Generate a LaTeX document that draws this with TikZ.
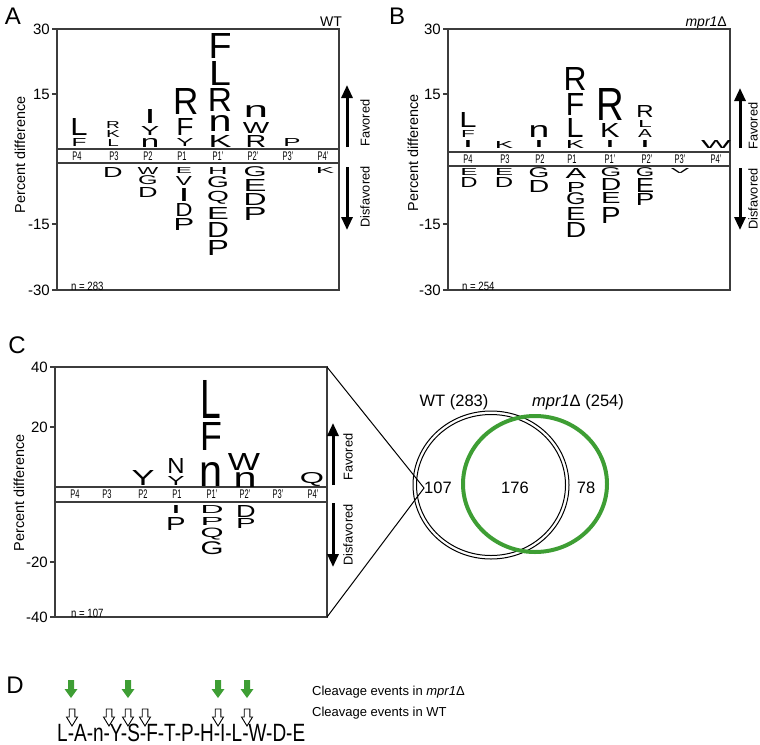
\documentclass[tikz,border=0pt]{standalone}
\usepackage{fontspec}
\setmainfont{Liberation Sans}
\usepackage{graphicx}
\usetikzlibrary{arrows.meta}
\definecolor{vgreen}{RGB}{62,158,52}
\definecolor{framecol}{RGB}{60,60,60}
\newcounter{gl}
\newcommand{\glyph}[5]{%
  \stepcounter{gl}%
  \pgfmathsetmacro{\glh}{#3-#2}%
  \pgfmathsetmacro{\glw}{#4*1.15}%
  \node[glyphnode] (gl\arabic{gl}) at (#1,#2) {\resizebox*{\glw pt}{\glh pt}{#5}};}
\newcommand{\narrowtxt}[1]{\scalebox{0.6}[1]{#1}}
\newcommand{\ntxt}[1]{\scalebox{0.8}[1]{#1}}
\newcommand{\garrow}[1]{\fill[vgreen] (#1-3,680) -- (#1+3,680) -- (#1+3,689) -- (#1+6.5,689) -- (#1,698) -- (#1-6.5,689) -- (#1-3,689) -- cycle;}
\newcommand{\oarrow}[1]{\draw[line width=0.9pt,line join=miter] (#1-2.8,709) -- (#1+2.8,709) -- (#1+2.8,717) -- (#1+5.5,717) -- (#1,726) -- (#1-5.5,717) -- (#1-2.8,717) -- cycle;}
\tikzset{
  glyphnode/.style={inner sep=0pt, outer sep=0pt, anchor=north},
  frame/.style={draw=framecol, line width=1.2pt},
  ticklab/.style={anchor=east, inner sep=0pt, font=\fontsize{15}{15}\selectfont},
  plabel/.style={inner sep=0pt, font=\fontsize{12.5}{12.5}\selectfont},
  ylab/.style={rotate=90, inner sep=0pt, font=\fontsize{14.4}{14.4}\selectfont},
  favlab/.style={rotate=90, inner sep=0pt, font=\fontsize{12.8}{12.8}\selectfont},
  bigarrow/.style={line width=3pt, -{Triangle[length=13pt,width=11pt]}},
  panellab/.style={inner sep=0pt, font=\fontsize{24}{24}\selectfont},
  ncount/.style={anchor=west, inner sep=0pt, font=\fontsize{12}{12}\selectfont},
  vennlab/.style={inner sep=0pt, font=\fontsize{16.5}{16.5}\selectfont},
}
\begin{document}
\begin{tikzpicture}[x=1pt,y=-1pt]
\path[use as bounding box] (0,0) rectangle (760,744);

% ================= Panel A =================
\node[panellab] (labA) at (13,16) {A};
\node[anchor=base east, inner sep=0pt, font=\fontsize{14}{14}\selectfont] (wtA) at (342,27) {WT};
\draw[frame] (57,29) rectangle (339,290);
\draw[frame] (57,149) rectangle (339,163);
\foreach \yy in {29,94,224,290} \draw[frame] (52,\yy) -- (57,\yy);
\node[ticklab] (ta1) at (50,29) {30};
\node[ticklab] (ta2) at (50,94) {15};
\node[ticklab] (ta3) at (50,224) {-15};
\node[ticklab] (ta4) at (50,290) {-30};
\node[ylab] (ya) at (20,155) {Percent difference};
\foreach \lab/\xx [count=\i] in {P4/77,P3/114,P2/148,P1/182,P1’/218,P2’/253,P3’/288,P4’/323}
  \node[plabel] (pa\i) at (\xx,156) {\narrowtxt{\lab}};
\node[ncount] (na) at (71,286) {\ntxt{n = 283}};
\draw[bigarrow] (347,147) -- (347,85);
\draw[bigarrow] (347,167) -- (347,230);
\node[favlab] (fa) at (365,123) {Favored};
\node[favlab] (da) at (365,197) {Disfavored};
% favored A
\glyph{79}{118}{135}{15}{L}
\glyph{79}{138}{146}{13}{F}
\glyph{113}{121}{128}{12}{R}
\glyph{113}{130}{137}{12}{K}
\glyph{113}{139}{146}{10}{L}
\glyph{150}{109}{123}{9.5}{I}
\glyph{150}{126}{135}{16}{Y}
\glyph{150}{138}{147}{16}{n}
\glyph{186}{88}{114}{22}{R}
\glyph{185}{118}{135}{15}{F}
\glyph{185}{138}{146}{15}{Y}
\glyph{220}{33}{58}{20}{F}
\glyph{220}{61}{85}{19}{L}
\glyph{220}{88}{111}{21}{R}
\glyph{220}{115}{131}{20}{n}
\glyph{220}{135}{147}{20}{K}
\glyph{256}{105}{117}{21}{n}
\glyph{256}{122}{133}{23}{W}
\glyph{256}{135}{147}{18}{R}
\glyph{292}{138}{146}{15}{P}
% disfavored A
\glyph{113}{167}{177}{17}{D}
\glyph{148}{167}{174}{18}{W}
\glyph{148}{176}{185}{17}{G}
\glyph{148}{187}{197}{17}{D}
\glyph{184}{167}{173}{14}{E}
\glyph{184}{176}{185}{14}{V}
\glyph{184}{188}{201}{9.5}{I}
\glyph{184}{203}{216}{15}{D}
\glyph{184}{218}{230}{18}{P}
\glyph{218}{167}{174}{17}{H}
\glyph{218}{177}{188}{19}{G}
\glyph{218}{191}{204}{19}{Q}
\glyph{218}{207}{219}{19}{E}
\glyph{218}{222}{237}{19}{D}
\glyph{218}{240}{255}{19}{P}
\glyph{255}{167}{177}{20}{G}
\glyph{255}{179}{191}{20}{E}
\glyph{255}{193}{205}{20}{D}
\glyph{255}{207}{220}{20}{P}
\glyph{325}{167}{173}{16}{K}

% ================= Panel B =================
\node[panellab] (labB) at (397,16) {B};
\node[anchor=base east, inner sep=0pt, font=\fontsize{14}{14}\selectfont] (wtB) at (727,27) {\textit{mpr1}Δ};
\draw[frame] (448,29) rectangle (730,290);
\draw[frame] (448,152) rectangle (730,166);
\foreach \yy in {29,94,224,290} \draw[frame] (443,\yy) -- (448,\yy);
\node[ticklab] (tb1) at (441,29) {30};
\node[ticklab] (tb2) at (441,94) {15};
\node[ticklab] (tb3) at (441,224) {-15};
\node[ticklab] (tb4) at (441,290) {-30};
\node[ylab] (yb) at (413,153) {Percent difference};
\foreach \lab/\xx [count=\i] in {P4/468,P3/505,P2/540,P1/572,P1’/610,P2’/647,P3’/680,P4’/716}
  \node[plabel] (pb\i) at (\xx,159) {\narrowtxt{\lab}};
\node[ncount] (nb) at (462,286) {\ntxt{n = 254}};
\draw[bigarrow] (740,148) -- (740,88);
\draw[bigarrow] (740,168) -- (740,230);
\node[favlab] (fb) at (753,126) {Favored};
\node[favlab] (db) at (753,199) {Disfavored};
% favored B
\glyph{468}{112}{127}{15}{L}
\glyph{468}{130}{137}{12}{F}
\glyph{468}{140}{147}{9}{I}
\glyph{504}{141}{148}{16}{K}
\glyph{539}{125}{137}{18}{n}
\glyph{539}{140}{147}{9}{I}
\glyph{575}{67}{90}{20}{R}
\glyph{575}{93}{115}{16}{F}
\glyph{575}{118}{137}{15}{L}
\glyph{575}{140}{148}{16}{K}
\glyph{610}{88}{120}{24}{R}
\glyph{610}{123}{137}{17}{K}
\glyph{610}{140}{147}{9}{I}
\glyph{645}{105}{117}{15}{R}
\glyph{645}{120}{127}{12}{L}
\glyph{645}{129}{137}{12}{A}
\glyph{645}{140}{147}{9}{I}
\glyph{716}{140}{148}{26}{W}
% disfavored B
\glyph{469}{168}{175}{15}{E}
\glyph{469}{177}{187}{15}{D}
\glyph{504}{168}{175}{16}{E}
\glyph{504}{177}{187}{16}{D}
\glyph{539}{168}{178}{18}{G}
\glyph{539}{180}{192}{18}{D}
\glyph{576}{168}{178}{18}{A}
\glyph{576}{182}{192}{16}{P}
\glyph{576}{193}{205}{17}{G}
\glyph{576}{207}{220}{17}{E}
\glyph{576}{222}{237}{18}{D}
\glyph{611}{168}{177}{18}{G}
\glyph{611}{178}{190}{18}{D}
\glyph{611}{192}{203}{17}{E}
\glyph{611}{207}{223}{17}{P}
\glyph{645}{168}{177}{16}{G}
\glyph{645}{178}{192}{16}{E}
\glyph{645}{193}{205}{16}{P}
\glyph{680}{168}{173}{16}{V}

% ================= Panel C =================
\node[panellab] (labC) at (17,345) {C};
\draw[frame] (55,367) rectangle (327,617);
\draw[frame] (55,487) rectangle (327,502);
\foreach \yy in {367,427,562,617} \draw[frame] (50,\yy) -- (55,\yy);
\node[ticklab] (tc1) at (48,367) {40};
\node[ticklab] (tc2) at (48,427) {20};
\node[ticklab] (tc3) at (48,562) {-20};
\node[ticklab] (tc4) at (48,617) {-40};
\node[ylab] (yc) at (19,493) {Percent difference};
\foreach \lab/\xx [count=\i] in {P4/75,P3/107,P2/143,P1/177,P1’/212,P2’/245,P3’/278,P4’/313}
  \node[plabel] (pc\i) at (\xx,494.5) {\narrowtxt{\lab}};
\node[ncount] (nc) at (71,613) {\ntxt{n = 107}};
\draw[bigarrow] (333,485) -- (333,423);
\draw[bigarrow] (333,503) -- (333,567);
\node[favlab] (fc) at (348,457) {Favored};
\node[favlab] (dc) at (348,535) {Disfavored};
% favored C
\glyph{143}{470}{485}{20}{Y}
\glyph{176}{458}{473}{15}{N}
\glyph{176}{476}{485}{15}{Y}
\glyph{211}{380}{418}{18}{L}
\glyph{211}{422}{450}{19}{F}
\glyph{211}{462}{486}{20}{n}
\glyph{244}{453}{470}{28}{W}
\glyph{245}{472}{487}{20}{n}
\glyph{312}{472}{486}{21}{Q}
% disfavored C
\glyph{176}{505}{513}{9}{I}
\glyph{176}{517}{530}{17}{P}
\glyph{212}{505}{513}{20}{D}
\glyph{212}{517}{525}{20}{P}
\glyph{212}{528}{540}{20}{Q}
\glyph{212}{542}{555}{20}{G}
\glyph{246}{505}{517}{17}{D}
\glyph{246}{518}{528}{17}{P}

% zoom lines and Venn
\coordinate (Ctr) at (327,367);
\coordinate (Cbr) at (327,617);
\coordinate (Vtip) at (424,488);
\draw[line width=1pt] (Ctr) -- (Vtip) -- (Cbr);
\draw[line width=1pt] (491,485) ellipse [x radius=78pt, y radius=74pt];
\draw[line width=1pt] (491,485) ellipse [x radius=74.5pt, y radius=70.5pt];
\draw[vgreen, line width=4pt] (535,484) ellipse [x radius=72pt, y radius=68pt];
\node[vennlab] (vwt) at (454,402) {WT (283)};
\node[vennlab] (vmp) at (578,402) {\textit{mpr1}Δ (254)};
\node[vennlab] (v107) at (438,488) {107};
\node[vennlab] (v176) at (515,488) {176};
\node[vennlab] (v78) at (586,488) {78};

% ================= Panel D =================
\node[panellab] (labD) at (15,685) {D};
\node[anchor=base west, inner sep=0pt] (seq) at (57,741) {\scalebox{0.76}[1]{\fontsize{25}{25}\selectfont L-A-n-Y-S-F-T-P-H-I-L-W-D-E}};
\garrow{71}
\garrow{128}
\garrow{218}
\garrow{247}
\oarrow{72}
\oarrow{109}
\oarrow{128}
\oarrow{145}
\oarrow{218}
\oarrow{247}
\node[anchor=west, inner sep=0pt, font=\fontsize{13}{13}\selectfont] (cev1) at (312,692) {Cleavage events in \textit{mpr1}Δ};
\node[anchor=west, inner sep=0pt, font=\fontsize{13}{13}\selectfont] (cev2) at (312,713) {Cleavage events in WT};
\end{tikzpicture}
\end{document}
